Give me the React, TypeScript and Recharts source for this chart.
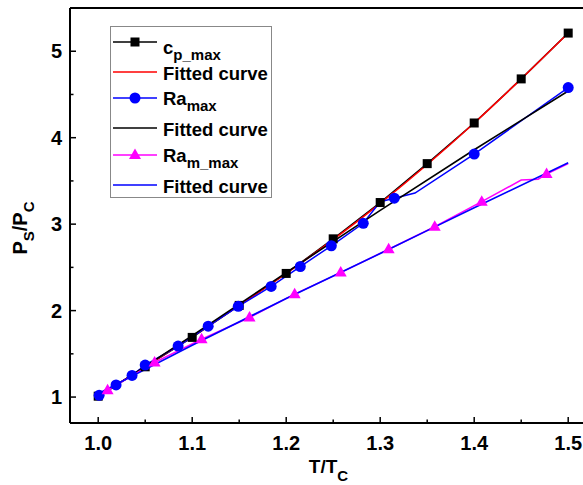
import React from 'react';
import { LineChart, Line, XAxis, YAxis, ReferenceLine } from 'recharts';

// tick values
const xTicks = [1.0, 1.05, 1.1, 1.15, 1.2, 1.25, 1.3, 1.35, 1.4, 1.45, 1.5];
const yTicks = [1, 1.5, 2, 2.5, 3, 3.5, 4, 4.5, 5];

// c_p_max (black squares)
const cpX = [1.0, 1.05, 1.1, 1.15, 1.2, 1.25, 1.3, 1.35, 1.4, 1.45, 1.5];
const cpY = [1.01, 1.35, 1.69, 2.06, 2.43, 2.83, 3.25, 3.7, 4.17, 4.68, 5.21];
// red fitted curve
const cpFitX = [1.0, 1.05, 1.1, 1.15, 1.2, 1.25, 1.3, 1.35, 1.4, 1.45, 1.5];
const cpFitY = [1.01, 1.35, 1.7, 2.06, 2.43, 2.82, 3.24, 3.69, 4.17, 4.68, 5.21];

// Ra_max (blue circles), some vertices carry no marker
const raX = [1.001, 1.019, 1.036, 1.05, 1.085, 1.117, 1.149, 1.184, 1.215, 1.248, 1.282, 1.3, 1.315, 1.337, 1.4, 1.5];
const raY = [1.02, 1.14, 1.25, 1.37, 1.59, 1.82, 2.05, 2.28, 2.51, 2.75, 3.01, 3.26, 3.3, 3.36, 3.81, 4.58];
const raMarked = [1, 1, 1, 1, 1, 1, 1, 1, 1, 1, 1, 0, 1, 0, 1, 1];
// black fitted curve
const raFitX = [1.0, 1.1, 1.2, 1.3, 1.4, 1.5];
const raFitY = [1.0, 1.71, 2.44, 3.16, 3.86, 4.54];

// Ra_m_max (magenta triangles)
const rmX = [1.0, 1.01, 1.06, 1.11, 1.161, 1.209, 1.258, 1.309, 1.358, 1.408, 1.45, 1.468, 1.477, 1.5];
const rmY = [1.01, 1.08, 1.4, 1.67, 1.92, 2.19, 2.44, 2.71, 2.97, 3.26, 3.51, 3.52, 3.58, 3.7];
const rmMarked = [0, 1, 1, 1, 1, 1, 1, 1, 1, 1, 0, 0, 1, 0];
// blue fitted curve
const rmFitX = [1.0, 1.1, 1.2, 1.3, 1.4, 1.5];
const rmFitY = [1.04, 1.6, 2.14, 2.66, 3.19, 3.71];

const FONT = '"Liberation Sans", Arial, sans-serif';

const toRows = (xs: number[], ys: number[], marks?: number[]) =>
    xs.map((x, i) => ({ x, y: ys[i], m: marks ? marks[i] === 1 : true }));

const cpData = toRows(cpX, cpY);
const cpFit = toRows(cpFitX, cpFitY);
const raData = toRows(raX, raY, raMarked);
const raFit = toRows(raFitX, raFitY);
const rmData = toRows(rmX, rmY, rmMarked);
const rmFit = toRows(rmFitX, rmFitY);

const Square = ({ cx, cy }: { cx: number; cy: number }) => (
    <rect x={cx - 4.5} y={cy - 4.5} width={9} height={9} fill="#000" />
);
const Circle = ({ cx, cy }: { cx: number; cy: number }) => (
    <circle cx={cx} cy={cy} r={5.5} fill="#0000ff" />
);
const Triangle = ({ cx, cy }: { cx: number; cy: number }) => (
    <path d={`M${cx},${cy - 6.5} L${cx + 6},${cy + 4} L${cx - 6},${cy + 4} Z`} fill="#ff00ff" />
);

const makeDot = (Shape: React.FC<{ cx: number; cy: number }>) => (props: any) => {
    const { cx, cy, payload, index } = props;
    if (!payload || !payload.m || cx == null || cy == null) return <g key={`d-${index}`} />;
    return (
        <g key={`d-${index}`}>
            <Shape cx={cx} cy={cy} />
        </g>
    );
};

const isMajorX = (v: number) => Math.abs(v * 10 - Math.round(v * 10)) < 1e-6;

const XTick = (props: any) => {
    const { x, y, payload } = props;
    const major = isMajorX(payload.value);
    return (
        <g>
            <line x1={x} y1={y} x2={x} y2={y - (major ? 6 : 3.5)} stroke="#000" strokeWidth={1.5} />
            {major && (
                <text x={x} y={y + 27} textAnchor="middle" fontFamily={FONT} fontWeight="bold" fontSize={20} fill="#000">
                    {payload.value.toFixed(1)}
                </text>
            )}
        </g>
    );
};

const YTick = (props: any) => {
    const { x, y, payload } = props;
    const major = Number.isInteger(payload.value);
    return (
        <g>
            <line x1={x} y1={y} x2={x + (major ? 6 : 3.5)} y2={y} stroke="#000" strokeWidth={1.5} />
            {major && (
                <text x={x - 8} y={y + 7} textAnchor="end" fontFamily={FONT} fontWeight="bold" fontSize={20} fill="#000">
                    {payload.value}
                </text>
            )}
        </g>
    );
};

const XTitle = (props: any) => {
    const vb = props.viewBox;
    const cx = vb.x + vb.width / 2;
    return (
        <text x={cx} y={vb.y + 50} textAnchor="middle" fontFamily={FONT} fontWeight="bold" fontSize={19} fill="#000">
            <tspan>T/T</tspan>
            <tspan fontSize={15} dy={8}>C</tspan>
        </text>
    );
};

const YTitle = () => (
    <text
        x={27}
        y={228}
        transform="rotate(-90 27 228)"
        textAnchor="middle"
        fontFamily={FONT}
        fontWeight="bold"
        fontSize={20}
        fill="#000"
    >
        <tspan>P</tspan>
        <tspan fontSize={15} dy={7}>S</tspan>
        <tspan dy={-7}>/P</tspan>
        <tspan fontSize={15} dy={7}>C</tspan>
    </text>
);

const legendRows = [
    { lineY: 42, textY: 54, color: '#000', marker: 'square', main: 'c', sub: 'p_max' },
    { lineY: 72, textY: 80, color: '#ff0000', marker: '', main: 'Fitted curve', sub: '' },
    { lineY: 98, textY: 105, color: '#0000ff', marker: 'circle', main: 'Ra', sub: 'max' },
    { lineY: 128, textY: 136, color: '#000', marker: '', main: 'Fitted curve', sub: '' },
    { lineY: 155, textY: 162, color: '#ff00ff', marker: 'triangle', main: 'Ra', sub: 'm_max' },
    { lineY: 185, textY: 193, color: '#0000ff', marker: '', main: 'Fitted curve', sub: '' }
];

const ChartLegend = () => (
    <svg width={583} height={485} style={{ position: 'absolute', left: 0, top: 0, pointerEvents: 'none' }}>
        <rect x={110.5} y={26.5} width={161} height={171} fill="#fff" stroke="#888" strokeWidth={1} />
        {legendRows.map((r, i) => (
            <g key={i}>
                <line x1={113} y1={r.lineY} x2={157} y2={r.lineY} stroke={r.color} strokeWidth={1.6} />
                {r.marker === 'square' && <Square cx={135} cy={r.lineY} />}
                {r.marker === 'circle' && <Circle cx={135} cy={r.lineY} />}
                {r.marker === 'triangle' && <Triangle cx={135} cy={r.lineY} />}
                <text x={163} y={r.textY} fontFamily={FONT} fontWeight="bold" fontSize={18.5} fill="#000">
                    <tspan>{r.main}</tspan>
                    {r.sub && (
                        <tspan fontSize={15} dy={6}>
                            {r.sub}
                        </tspan>
                    )}
                </text>
            </g>
        ))}
    </svg>
);

export default function App() {
    return (
        <div
            style={{
                position: 'absolute',
                left: 0,
                top: 0,
                width: 583,
                height: 485,
                overflow: 'hidden',
                background: '#fff'
            }}
        >
            <LineChart width={600} height={485} margin={{ top: 8, right: 13, bottom: 22, left: 20 }}>
                <XAxis
                    dataKey="x"
                    type="number"
                    domain={[0.97, 1.52]}
                    ticks={xTicks}
                    interval={0}
                    tickSize={0}
                    tickMargin={0}
                    tick={<XTick />}
                    height={40}
                    axisLine={{ stroke: '#000', strokeWidth: 2 }}
                    allowDuplicatedCategory={false}
                    label={<XTitle />}
                />
                <YAxis
                    dataKey="y"
                    type="number"
                    domain={[0.7, 5.5]}
                    ticks={yTicks}
                    interval={0}
                    tickSize={0}
                    tickMargin={0}
                    tick={<YTick />}
                    width={50}
                    axisLine={{ stroke: '#000', strokeWidth: 2 }}
                    label={<YTitle />}
                />
                <ReferenceLine y={5.5} stroke="#000" strokeWidth={2} />
                <ReferenceLine x={1.52} stroke="#000" strokeWidth={2} />

                <Line data={cpData} dataKey="y" type="linear" stroke="#000" strokeWidth={1.5}
                    dot={makeDot(Square)} activeDot={false} isAnimationActive={false} />
                <Line data={cpFit} dataKey="y" type="monotone" stroke="#ff0000" strokeWidth={1.6}
                    dot={false} activeDot={false} isAnimationActive={false} />
                <Line data={raData} dataKey="y" type="linear" stroke="#0000ff" strokeWidth={1.5}
                    dot={makeDot(Circle)} activeDot={false} isAnimationActive={false} />
                <Line data={raFit} dataKey="y" type="monotone" stroke="#000" strokeWidth={1.6}
                    dot={false} activeDot={false} isAnimationActive={false} />
                <Line data={rmData} dataKey="y" type="linear" stroke="#ff00ff" strokeWidth={1.5}
                    dot={makeDot(Triangle)} activeDot={false} isAnimationActive={false} />
                <Line data={rmFit} dataKey="y" type="monotone" stroke="#0000ff" strokeWidth={1.6}
                    dot={false} activeDot={false} isAnimationActive={false} />
            </LineChart>
            <ChartLegend />
        </div>
    );
}
